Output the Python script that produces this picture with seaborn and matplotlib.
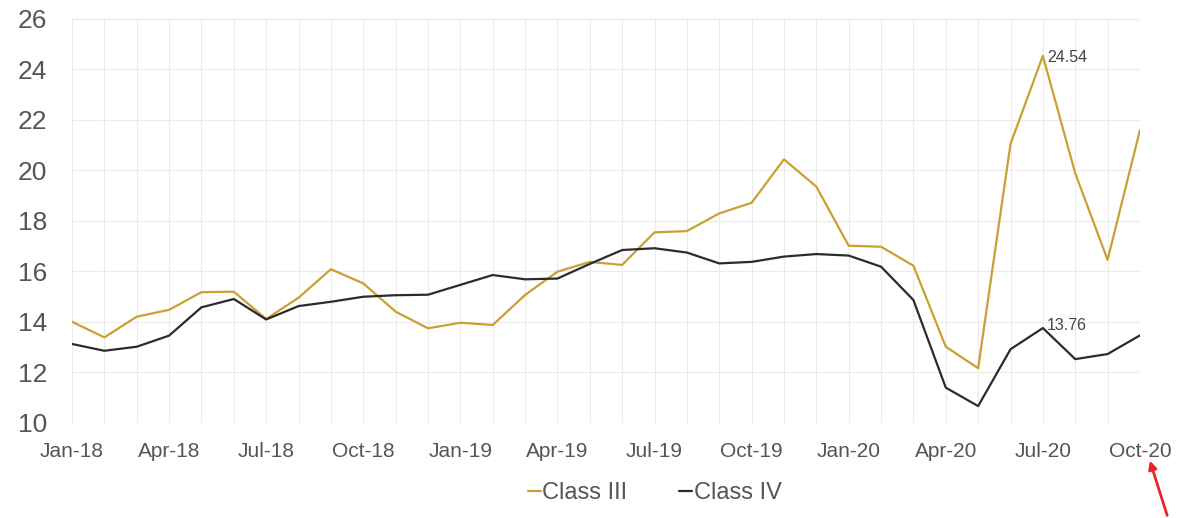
import numpy as np
import pandas as pd
import matplotlib
matplotlib.use("Agg")
import matplotlib.pyplot as plt
import seaborn as sns
from matplotlib.lines import Line2D
from matplotlib.patches import FancyArrowPatch

months = ["Jan-18", "Feb-18", "Mar-18", "Apr-18", "May-18", "Jun-18", "Jul-18", "Aug-18",
          "Sep-18", "Oct-18", "Nov-18", "Dec-18", "Jan-19", "Feb-19", "Mar-19", "Apr-19",
          "May-19", "Jun-19", "Jul-19", "Aug-19", "Sep-19", "Oct-19", "Nov-19", "Dec-19",
          "Jan-20", "Feb-20", "Mar-20", "Apr-20", "May-20", "Jun-20", "Jul-20", "Aug-20",
          "Sep-20", "Oct-20"]

class_iii = [14.01, 13.39, 14.21, 14.48, 15.18, 15.20, 14.12, 14.96, 16.09, 15.53, 14.41, 13.75,
             13.97, 13.88, 15.07, 15.99, 16.38, 16.26, 17.55, 17.60, 18.30, 18.72, 20.44, 19.36,
             17.02, 16.98, 16.23, 13.02, 12.17, 21.05, 24.54, 19.89, 16.46, 21.60]

class_iv = [13.13, 12.86, 13.02, 13.46, 14.58, 14.91, 14.10, 14.63, 14.80, 15.00, 15.06, 15.08,
            15.47, 15.86, 15.69, 15.72, 16.30, 16.85, 16.92, 16.75, 16.32, 16.38, 16.59, 16.69,
            16.63, 16.19, 14.87, 11.40, 10.67, 12.92, 13.76, 12.53, 12.73, 13.47]

series_names = ["Class III", "Class IV"]
colors = ["#C9A032", "#2B2B2E"]
tick_labels = months[::3]
y_ticks = [10, 12, 14, 16, 18, 20, 22, 24, 26]

sns.set_theme(style="white")
plt.rcParams["font.family"] = ["Liberation Sans", "DejaVu Sans"]

df = pd.DataFrame({
    "idx": list(range(len(months))) * 2,
    "value": class_iii + class_iv,
    "series": [series_names[0]] * len(months) + [series_names[1]] * len(months),
})

fig = plt.figure(figsize=(11.84, 5.18), dpi=100)
ax = fig.add_axes([0.0608, 0.1834, 0.902, 0.78])

sns.lineplot(data=df, x="idx", y="value", hue="series", palette=colors,
             linewidth=1.6, ax=ax, legend=False)

ax.set_xlim(0, len(months) - 1)
ax.set_ylim(10, 26)
ax.set_yticks(y_ticks)
ax.set_yticklabels([str(v) for v in y_ticks], fontsize=19, color="#555555")
ax.set_xticks(list(range(0, len(months), 3)))
ax.set_xticklabels(tick_labels, fontsize=15, color="#555555")
ax.set_xticks(list(range(len(months))), minor=True)
ax.grid(True, which="both", axis="x", color="#EBEBEB", linewidth=0.8)
ax.grid(True, which="major", axis="y", color="#EBEBEB", linewidth=0.8)
ax.tick_params(axis="x", which="both", length=0, pad=14)
ax.tick_params(axis="y", which="both", length=0, pad=18)
for s in ax.spines.values():
    s.set_visible(False)
ax.set_xlabel("")
ax.set_ylabel("")

# labels at Jul-20
j = months.index("Jul-20")
ax.annotate(f"{class_iii[j]:.2f}", (j, class_iii[j]), xytext=(3, -1),
            textcoords="offset points", fontsize=11.5, color="#444444", va="center", ha="left")
ax.annotate(f"{class_iv[j]:.2f}", (j, class_iv[j]), xytext=(3, 2),
            textcoords="offset points", fontsize=11.5, color="#444444", va="center", ha="left")

handles = [Line2D([0], [0], color=c, linewidth=1.6) for c in colors]
fig.legend(handles, series_names, loc="center", bbox_to_anchor=(0.553, 0.048), ncol=2,
           frameon=False, fontsize=17, handlelength=0.55, handletextpad=0.05,
           columnspacing=2.2, labelcolor="#555555")

# red arrow pointing at the last label
fig.add_artist(FancyArrowPatch(
    (1168 / 1184, 0.0), (1149 / 1184, 1 - 458 / 518),
    transform=fig.transFigure, arrowstyle="-|>", mutation_scale=12,
    color="#E8262A", linewidth=2))

fig.savefig("out.png", dpi=100, facecolor="white")
